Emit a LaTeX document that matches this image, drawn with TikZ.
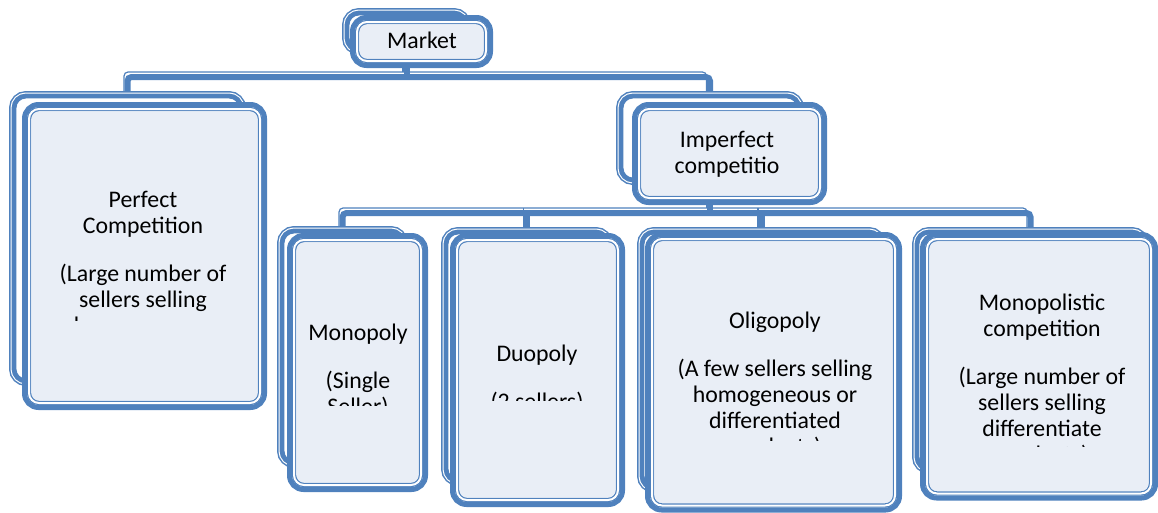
\documentclass[tikz,border=0pt]{standalone}
\usepackage{fontspec}
\setmainfont{Carlito}
\usetikzlibrary{backgrounds,fit}
\definecolor{cblue}{HTML}{4F81BD}
\definecolor{cfill}{HTML}{E9EEF6}

\tikzset{
  backbox/.style={rectangle, rounded corners=12pt, inner sep=0pt, outer sep=0pt,
    fill=white, draw=white, line width=7pt,
    preaction={draw=cblue, line width=10pt},
    postaction={draw=cblue, line width=4.8pt}},
  frontbox/.style={rectangle, rounded corners=14pt, inner sep=0pt, outer sep=0pt,
    fill=white, draw=cblue, line width=5pt},
  innerline/.style={draw=cblue, line width=1.2pt, double=white, double distance=2pt, rounded corners=10pt},
  glow/.style={fill=cfill, rounded corners=8pt},
  conn/.style={draw=cblue, line width=6pt, rounded corners=4pt,
    preaction={draw=cblue, line width=1.2pt, transform canvas={shift={(-3.5pt,5pt)}}}},
  cardtext/.style={anchor=north, inner sep=0pt, align=center, font=\fontsize{23.8}{26}\selectfont}
}

\begin{document}
\begin{tikzpicture}[x=1pt,y=-1pt]
\useasboundingbox (0,0) rectangle (1158,512);

% cards: back box, then front box
\node[backbox, fit={(347,13) (466,50)}] (marketbk) {};
\node[frontbox, fit={(352.5,17.5) (490.5,65.5)}] (market) {};
\node[backbox, fit={(14,96) (241,381)}] (perfectbk) {};
\node[frontbox, fit={(24.5,104.5) (264.5,407.5)}] (perfect) {};
\node[backbox, fit={(621,96) (799,180)}] (imperfectbk) {};
\node[frontbox, fit={(634.5,104.5) (824.5,202.5)}] (imperfect) {};
\node[backbox, fit={(282,231) (403,463)}] (monopolybk) {};
\node[frontbox, fit={(289.5,235.5) (425.5,489.5)}] (monopoly) {};
\node[backbox, fit={(446,232) (608,481)}] (duopolybk) {};
\node[frontbox, fit={(452.5,235.5) (622.5,504.5)}] (duopoly) {};
\node[backbox, fit={(642,232) (881,488)}] (oligopolybk) {};
\node[frontbox, fit={(647.5,234.5) (899.5,510)}] (oligopoly) {};
\node[backbox, fit={(917,232) (1144,469)}] (monocompbk) {};
\node[frontbox, fit={(922.5,234.5) (1155.5,498)}] (monocomp) {};

\foreach \n in {market,perfect,imperfect,monopoly,duopoly,oligopoly,monocomp} {
  \fill[glow] ([shift={(7,7)}]\n.north west) rectangle ([shift={(-7,-7)}]\n.south east);
  \draw[innerline] ([shift={(4.5,4.5)}]\n.north west) rectangle ([shift={(-4.5,-4.5)}]\n.south east);
}

% connectors
\path (marketbk.south) ++(0,27) coordinate (bus1);
\path (imperfectbk.south) ++(0,33) coordinate (bus2);
\begin{scope}[on background layer]
\draw[conn] (perfectbk.north) |- (bus1) -| (imperfectbk.north);
\draw[conn] (marketbk.south) -- (bus1);
\draw[conn] (monopolybk.north) |- (bus2) -| (monocompbk.north);
\draw[conn] (imperfectbk.south) -- (bus2);
\draw[conn] (duopolybk.north) -- (duopolybk.north |- bus2);
\draw[conn] (oligopolybk.north) -- (oligopolybk.north |- bus2);
\end{scope}

% texts
\node[cardtext] (markettxt) at (422,29.8) {\strut Market};
\node[cardtext] (imperfecttxt) at (727,128.8) {\strut Imperfect\\competitio};
\begin{scope}
\clip (perfect.north west) rectangle (264.5,320);
\node[cardtext] (perfecttxt) at (143,188.8) {\strut Perfect\\Competition\\[22pt](Large number of\\sellers selling\\homogeneous\\products)};
\end{scope}
\begin{scope}
\clip (monopoly.north west) rectangle (425.5,405);
\node[cardtext] (monopolytxt) at (358,321.8) {\strut Monopoly\\[22pt](Single\\Seller)};
\end{scope}
\begin{scope}
\clip (duopoly.north west) rectangle (622.5,400);
\node[cardtext] (duopolytxt) at (537,342.8) {\strut Duopoly\\[22pt](2 sellers)};
\end{scope}
\begin{scope}
\clip (oligopoly.north west) rectangle (899.5,440.5);
\node[cardtext] (oligopolytxt) at (775,309.8) {\strut Oligopoly\\[22pt](A few sellers selling\\homogeneous or\\differentiated\\products)};
\end{scope}
\begin{scope}
\clip (monocomp.north west) rectangle (1155.5,446);
\node[cardtext] (monocomptxt) at (1042,291.8) {\strut Monopolistic\\competition\\[22pt](Large number of\\sellers selling\\differentiate\\products)};
\end{scope}
\end{tikzpicture}
\end{document}
